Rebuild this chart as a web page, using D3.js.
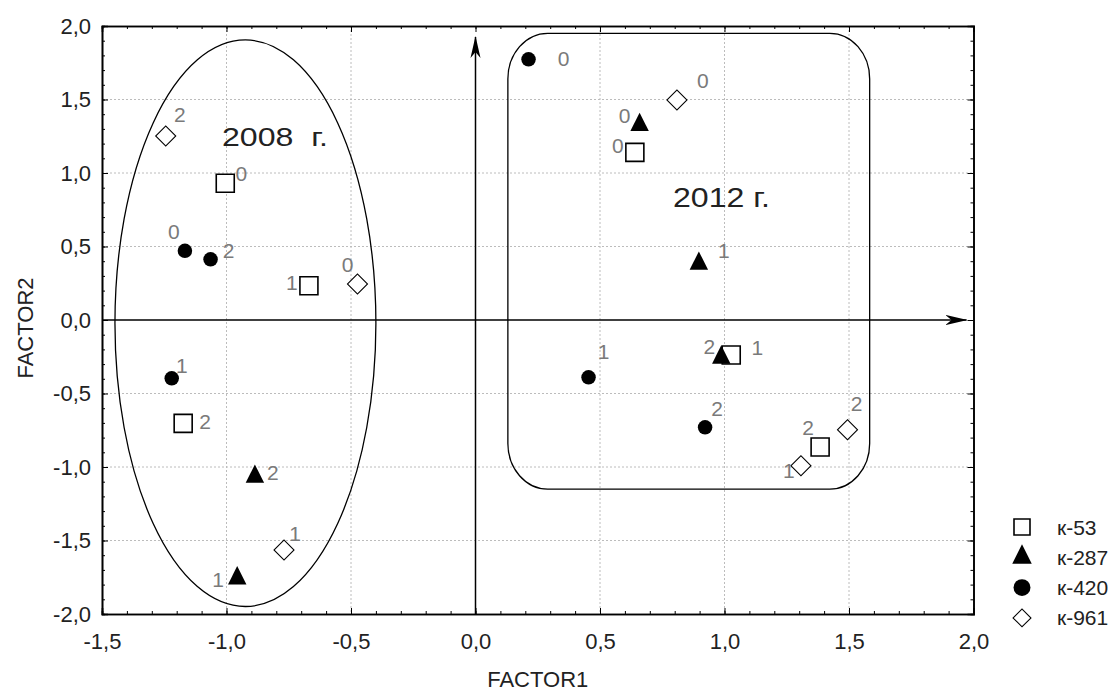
<!DOCTYPE html>
<html>
<head>
<meta charset="utf-8">
<script src="https://d3js.org/d3.v7.min.js"></script>
<style>
  body { margin: 0; background: #fff; }
  text { font-family: "Liberation Sans", Arial, sans-serif; }
</style>
</head>
<body>
<div id="chart"></div>
<script>
// values: [FACTOR1, FACTOR2, point label]
var seriesNames = ["к-53", "к-287", "к-420", "к-961"];
var k53 = [[-1.005, 0.93, "0"], [-0.669, 0.233, "1"], [-1.174, -0.703, "2"],
  [0.64, 1.14, "0"], [1.027, -0.238, "1"], [1.384, -0.864, "2"]];
var k287 = [[-0.957, -1.757, "1"], [-0.886, -1.066, "2"],
  [0.659, 1.327, "0"], [0.897, 0.383, "1"], [0.987, -0.256, "2"]];
var k420 = [[-1.167, 0.471, "0"], [-1.064, 0.413, "2"], [-1.22, -0.397, "1"],
  [0.213, 1.773, "0"], [0.454, -0.39, "1"], [0.922, -0.73, "2"]];
var k961 = [[-1.244, 1.252, "2"], [-0.474, 0.245, "0"], [-0.769, -1.565, "1"],
  [0.809, 1.497, "0"], [1.494, -0.746, "2"], [1.307, -0.991, "1"]];

var xTicks = [-1.5, -1.0, -0.5, 0.0, 0.5, 1.0, 1.5, 2.0];
var yTicks = [-2.0, -1.5, -1.0, -0.5, 0.0, 0.5, 1.0, 1.5, 2.0];
var groupNames = ["2008  г.", "2012 г."];

// where each point label sits relative to its marker (px)
var k53Offsets = [[16, -10], [-17, -3], [22, -2], [-17, -7], [26, -8], [-12, -20]];
var k287Offsets = [[-19, 1], [18, -4], [-15, -9], [25, -13], [-12, -11]];
var k420Offsets = [[-11, -19], [18, -9], [10, -13], [35, -1], [15, -26], [12, -19]];
var k961Offsets = [[14, -22], [-10, -20], [11, -17], [26, -20], [9, -26], [-12, 5]];

var svgWidth = 1112;
var svgHeight = 691;
var margin = { top: 26, right: 138.5, bottom: 77, left: 102 };
var width = svgWidth - margin.left - margin.right;
var height = svgHeight - margin.top - margin.bottom;

var svg = d3.select("#chart")
  .append("svg")
  .attr("width", svgWidth)
  .attr("height", svgHeight);

var chartGroup = svg.append("g")
  .attr("transform", `translate(${margin.left}, ${margin.top})`);

var xScale = d3.scaleLinear().domain([-1.5, 2.0]).range([0, width]);
var yScale = d3.scaleLinear().domain([-2.0, 2.0]).range([height, 0]);

function fmt(v) {
  return v.toFixed(1).replace(".", ",");
}

// dotted grid
chartGroup.append("g")
  .selectAll("line")
  .data(xTicks.filter(d => d > -1.5 && d < 2.0 && d !== 0))
  .enter()
  .append("line")
  .attr("x1", d => xScale(d)).attr("x2", d => xScale(d))
  .attr("y1", 0).attr("y2", height)
  .attr("stroke", "#bcbcbc")
  .attr("stroke-dasharray", "2,2");

chartGroup.append("g")
  .selectAll("line")
  .data(yTicks.filter(d => d > -2.0 && d < 2.0 && d !== 0))
  .enter()
  .append("line")
  .attr("y1", d => yScale(d)).attr("y2", d => yScale(d))
  .attr("x1", 0).attr("x2", width)
  .attr("stroke", "#bcbcbc")
  .attr("stroke-dasharray", "2,2");

// axes with inward ticks on all four sides
var minorX = d3.range(-15, 21).map(d => d / 10);
var minorY = d3.range(-20, 21).map(d => d / 10);

chartGroup.append("g")
  .attr("transform", `translate(0, ${height})`)
  .call(d3.axisBottom(xScale).tickValues(minorX).tickSize(-3).tickFormat(""));
chartGroup.append("g")
  .attr("transform", `translate(0, ${height})`)
  .call(d3.axisBottom(xScale).tickValues(xTicks).tickSize(-6).tickPadding(19).tickFormat(fmt));
chartGroup.append("g")
  .call(d3.axisTop(xScale).tickValues(minorX).tickSize(-3).tickFormat(""));
chartGroup.append("g")
  .call(d3.axisTop(xScale).tickValues(xTicks).tickSize(-6).tickFormat(""));
chartGroup.append("g")
  .call(d3.axisLeft(yScale).tickValues(minorY).tickSize(-3).tickFormat(""));
chartGroup.append("g")
  .call(d3.axisLeft(yScale).tickValues(yTicks).tickSize(-6).tickPadding(11).tickFormat(fmt));
chartGroup.append("g")
  .attr("transform", `translate(${width}, 0)`)
  .call(d3.axisRight(yScale).tickValues(minorY).tickSize(-3).tickFormat(""));
chartGroup.append("g")
  .attr("transform", `translate(${width}, 0)`)
  .call(d3.axisRight(yScale).tickValues(yTicks).tickSize(-6).tickFormat(""));

chartGroup.selectAll(".domain").attr("stroke", "#000").attr("stroke-width", 1.6);
chartGroup.selectAll(".tick line").attr("stroke", "#000");
chartGroup.selectAll(".tick text")
  .attr("font-size", 22)
  .attr("fill", "#222")
  .style("font-family", "'Liberation Sans', Arial, sans-serif");

// arrowed zero lines
svg.append("defs").append("marker")
  .attr("id", "stealth")
  .attr("viewBox", "0 -6 22 12")
  .attr("markerUnits", "userSpaceOnUse")
  .attr("markerWidth", 22)
  .attr("markerHeight", 12)
  .attr("refX", 21)
  .attr("refY", 0)
  .attr("orient", "auto")
  .append("path")
  .attr("d", "M0,-5 L22,0 L0,5 L6,0 Z")
  .attr("fill", "#000");

chartGroup.append("line")
  .attr("x1", 0).attr("x2", width - 7)
  .attr("y1", yScale(0)).attr("y2", yScale(0))
  .attr("stroke", "#000").attr("stroke-width", 1.5)
  .attr("marker-end", "url(#stealth)");

chartGroup.append("line")
  .attr("x1", xScale(0)).attr("x2", xScale(0))
  .attr("y1", height).attr("y2", 11)
  .attr("stroke", "#000").attr("stroke-width", 1.5)
  .attr("marker-end", "url(#stealth)");

// group outlines: ellipse for 2008, rounded box for 2012
chartGroup.append("ellipse")
  .attr("cx", xScale(-0.924))
  .attr("cy", yScale(-0.022))
  .attr("rx", xScale(0.524) - xScale(0))
  .attr("ry", yScale(0) - yScale(1.927))
  .attr("fill", "none")
  .attr("stroke", "#000")
  .attr("stroke-width", 1.3);

chartGroup.append("rect")
  .attr("x", xScale(0.13))
  .attr("y", yScale(1.95))
  .attr("width", xScale(1.583) - xScale(0.13))
  .attr("height", yScale(-1.15) - yScale(1.95))
  .attr("rx", xScale(0.16) - xScale(0))
  .attr("ry", yScale(0) - yScale(0.31))
  .attr("fill", "none")
  .attr("stroke", "#000")
  .attr("stroke-width", 1.3);

chartGroup.append("text")
  .attr("x", xScale(-1.018))
  .attr("y", yScale(1.184))
  .attr("font-size", 25)
  .attr("fill", "#222")
  .attr("textLength", 106)
  .attr("lengthAdjust", "spacingAndGlyphs")
  .style("white-space", "pre")
  .text(groupNames[0]);

chartGroup.append("text")
  .attr("x", xScale(0.793))
  .attr("y", yScale(0.769))
  .attr("font-size", 27)
  .attr("fill", "#222")
  .attr("textLength", 97)
  .attr("lengthAdjust", "spacingAndGlyphs")
  .text(groupNames[1]);

// marker shapes
var tallTriangle = {
  draw: function(context, size) {
    var h = Math.sqrt(size);
    context.moveTo(0, -2 * h / 3);
    context.lineTo(h / 2, h / 3);
    context.lineTo(-h / 2, h / 3);
    context.closePath();
  }
};

var styles = [
  { type: d3.symbolSquare, size: 324, fill: "#fff", stroke: "#000", sw: 1.6, rot: 0, legSize: 256 },
  { type: tallTriangle, size: 340, fill: "#000", stroke: "none", sw: 0, rot: 0, legSize: 380 },
  { type: d3.symbolCircle, size: 165, fill: "#000", stroke: "none", sw: 0, rot: 0, legSize: 225 },
  { type: d3.symbolSquare, size: 200, fill: "#fff", stroke: "#000", sw: 1.1, rot: 45, legSize: 160 }
];

var allSeries = [k53, k287, k420, k961];
var allOffsets = [k53Offsets, k287Offsets, k420Offsets, k961Offsets];

allSeries.forEach(function(data, i) {
  var st = styles[i];
  var g = chartGroup.append("g");

  g.selectAll("path")
    .data(data)
    .enter()
    .append("path")
    .attr("d", d3.symbol().type(st.type).size(st.size))
    .attr("transform", d => `translate(${xScale(d[0])}, ${yScale(d[1])}) rotate(${st.rot})`)
    .attr("fill", st.fill)
    .attr("stroke", st.stroke)
    .attr("stroke-width", st.sw);

  g.selectAll("text")
    .data(data)
    .enter()
    .append("text")
    .attr("x", (d, j) => xScale(d[0]) + allOffsets[i][j][0])
    .attr("y", (d, j) => yScale(d[1]) + allOffsets[i][j][1])
    .attr("dy", "0.36em")
    .attr("text-anchor", "middle")
    .attr("font-size", 21)
    .attr("fill", "#7a7a7a")
    .text(d => d[2]);
});

// axis titles
svg.append("text")
  .attr("x", margin.left + width / 2)
  .attr("y", 687)
  .attr("text-anchor", "middle")
  .attr("font-size", 22)
  .attr("fill", "#222")
  .text("FACTOR1");

svg.append("text")
  .attr("transform", "translate(33, 328) rotate(-90)")
  .attr("text-anchor", "middle")
  .attr("font-size", 22)
  .attr("fill", "#222")
  .text("FACTOR2");

// legend
var legend = svg.append("g")
  .attr("transform", "translate(1022, 527)");

var legendRows = legend.selectAll("g")
  .data(seriesNames)
  .enter()
  .append("g")
  .attr("transform", (d, i) => `translate(0, ${i * 30.3})`);

legendRows.append("path")
  .attr("d", (d, i) => d3.symbol().type(styles[i].type).size(styles[i].legSize)())
  .attr("transform", (d, i) => `rotate(${styles[i].rot})`)
  .attr("fill", (d, i) => styles[i].fill)
  .attr("stroke", (d, i) => styles[i].stroke)
  .attr("stroke-width", (d, i) => styles[i].sw);

legendRows.append("text")
  .attr("x", 35)
  .attr("dy", "0.36em")
  .attr("font-size", 21)
  .attr("fill", "#222")
  .text(d => d);
</script>
</body>
</html>
